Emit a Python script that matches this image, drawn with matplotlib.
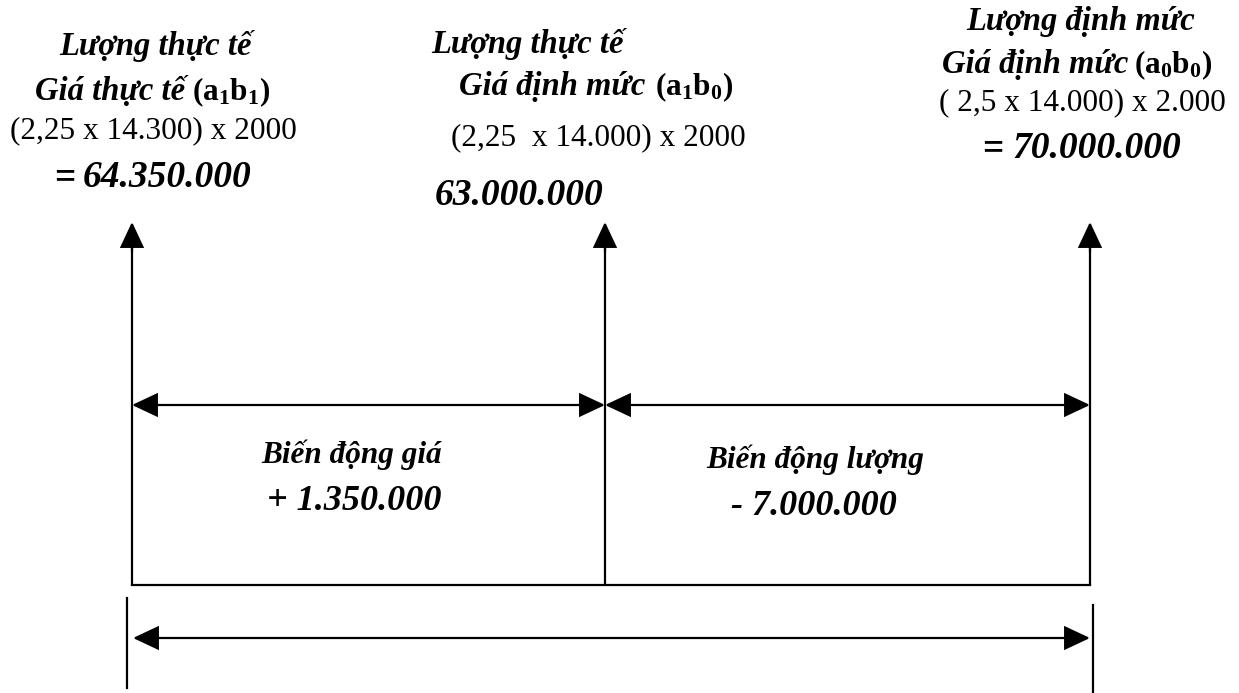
import matplotlib
matplotlib.use("Agg")
import matplotlib.pyplot as plt
from matplotlib.patches import FancyArrowPatch

plt.rcParams['mathtext.fontset'] = 'custom'
plt.rcParams['mathtext.rm'] = 'Liberation Serif:bold'
plt.rcParams['mathtext.it'] = 'Liberation Serif:bold:italic'
plt.rcParams['mathtext.bf'] = 'Liberation Serif:bold'

FAM = ['Liberation Serif', 'DejaVu Serif']

# ---- data ----
col_titles = ["Lượng thực tế", "Lượng thực tế", "Lượng định mức"]
col_sub_titles = ["Giá thực tế ", "Giá định mức ", "Giá định mức "]
col_codes = ["(a$_1$b$_1$)", "(a$_1$b$_0$)", "(a$_0$b$_0$)"]
col_formulas = ["(2,25 x 14.300) x 2000", "(2,25  x 14.000) x 2000", "( 2,5 x 14.000) x 2.000"]
col_values = ["64.350.000", "63.000.000", "70.000.000"]
col_equals = ["=", "", "="]
var_names = ["Biến động giá", "Biến động lượng"]
var_values = ["+ 1.350.000", "- 7.000.000"]

# ---- layout ----
col_x = [132, 605, 1090]
fig = plt.figure(figsize=(12.39, 6.93), dpi=100)
ax = fig.add_axes([0, 0, 1, 1])
ax.set_xlim(0, 1239)
ax.set_ylim(693, 0)
ax.axis('off')

LW = 1.6
def arrow(p0, p1, style):
    a = FancyArrowPatch(p0, p1, arrowstyle=style, mutation_scale=1,
                        shrinkA=0, shrinkB=0, lw=LW, color='black',
                        joinstyle='miter')
    ax.add_patch(a)

head = "head_length=16,head_width=7.5"
# vertical lines with top arrows
top_tip = 222
base_y = 585
for x in col_x:
    ax.plot([x, x], [top_tip + 10, base_y], color='black', lw=LW, solid_capstyle='butt')
    arrow((x, top_tip + 30), (x, top_tip), "-|>," + head)
# bottom line of box
ax.plot([col_x[0], col_x[2]], [base_y, base_y], color='black', lw=LW)
# horizontal double arrows
h_y = 405
arrow((col_x[0], h_y), (col_x[1], h_y), "<|-|>," + head)
arrow((col_x[1], h_y), (col_x[2], h_y), "<|-|>," + head)
# bottom total arrow and ticks
ax.plot([127, 127], [598, 688], color='black', lw=LW)
ax.plot([1093, 1093], [605, 693], color='black', lw=LW)
arrow((col_x[0] + 1, 638), (col_x[2], 638), "<|-|>," + head)

FS_LBL = 23.5
FS_NUM = 27
FS_F = 22.5

# column 1..3 titles
title_pos = [(155, 55), (527, 53), (1081, 30)]
sub_pos = [(185, 192, 100), (645, 655, 95), (1128, 1134, 73)]
form_pos = [(153, 138), (598, 145), (1082, 110)]
val_pos = [(83, 187), (435, 205), (1012, 158)]
eq_pos = [(76, 187), (0, 0), (1003, 158)]

for i in range(3):
    ax.text(*title_pos[i], col_titles[i], family=FAM, weight='bold', style='italic',
            fontsize=FS_LBL, ha='center', va='baseline')
    xr, xl, yb = sub_pos[i]
    ax.text(xr, yb, col_sub_titles[i].strip(), family=FAM, weight='bold', style='italic',
            fontsize=FS_LBL, ha='right', va='baseline')
    ax.text(xl, yb, col_codes[i], family=FAM, weight='bold',
            fontsize=FS_LBL - 1, ha='left', va='baseline')
    ax.text(*form_pos[i], col_formulas[i], family=FAM, fontsize=FS_F,
            ha='center', va='baseline')
    ax.text(*val_pos[i], col_values[i], family=FAM, weight='bold', style='italic',
            fontsize=FS_NUM, ha='left', va='baseline')
    if col_equals[i]:
        ax.text(*eq_pos[i], col_equals[i], family=FAM, weight='bold',
                fontsize=27, ha='right', va='baseline')

# variance labels
var_name_pos = [(352, 463), (815, 468)]
var_val_pos = [(354, 510), (814, 515)]
for i in range(2):
    ax.text(*var_name_pos[i], var_names[i], family=FAM, weight='bold', style='italic',
            fontsize=22.5, ha='center', va='baseline')
    ax.text(*var_val_pos[i], var_values[i], family=FAM, weight='bold', style='italic',
            fontsize=26, ha='center', va='baseline')

fig.savefig("out.png", dpi=100)
